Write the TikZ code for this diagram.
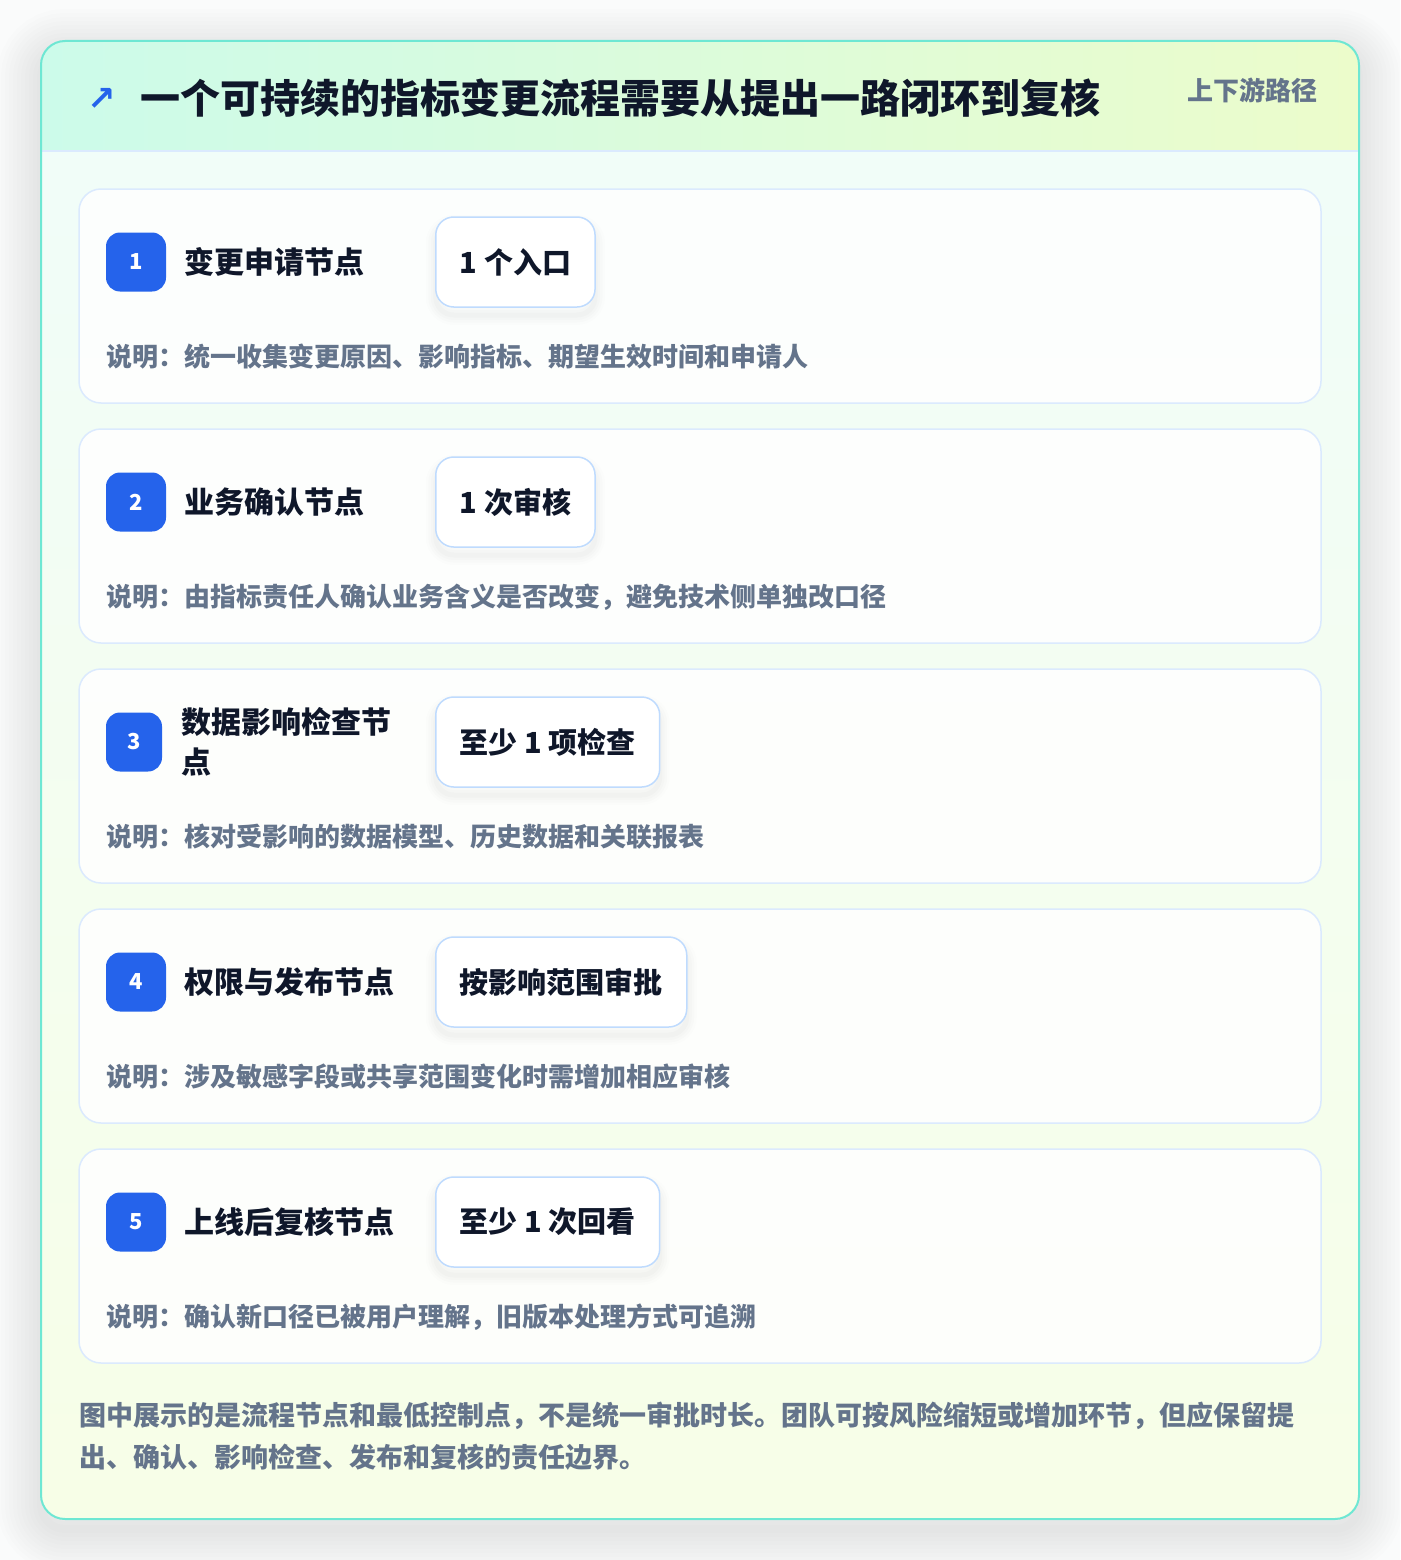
\documentclass[tikz,border=0pt]{standalone}
\usepackage{fontspec}
\setmainfont{Noto Sans CJK SC}
\newfontfamily\symfont{DejaVu Sans}
\definecolor{cardedge}{HTML}{6EE7D3}
\definecolor{hdrL}{HTML}{CCFBEA}
\definecolor{hdrR}{HTML}{ECFCCB}
\definecolor{bodyT}{HTML}{F0FDFA}
\definecolor{bodyB}{HTML}{F7FEE7}
\definecolor{cardline}{HTML}{DBEAFE}
\definecolor{pillline}{HTML}{BFDBFE}
\definecolor{badgeblue}{HTML}{2563EB}
\definecolor{ink}{HTML}{0F172A}
\definecolor{slate}{HTML}{64748B}
\definecolor{pagebg}{HTML}{FAFBFB}
\tikzset{
  softshadow/.style={
    preaction={draw=black, line width=20pt, opacity=0.008, transform canvas={yshift=-8pt}},
    preaction={draw=black, line width=15pt, opacity=0.01, transform canvas={yshift=-8pt}},
    preaction={draw=black, line width=10pt, opacity=0.012, transform canvas={yshift=-8pt}},
    preaction={draw=black, line width=5pt, opacity=0.015, transform canvas={yshift=-8pt}}},
  stepcard/.style={draw=cardline, line width=1.5pt, fill=white, fill opacity=0.85, rounded corners=22pt},
  badge/.style={fill=badgeblue, rounded corners=14pt, minimum height=59pt, inner sep=0pt,
    text=white, font=\bfseries\fontsize{22}{26}\selectfont},
  steptitle/.style={anchor=west, inner sep=0pt, text=ink, align=left,
    font=\bfseries\fontsize{30}{40}\selectfont},
  pill/.style={anchor=west, draw=pillline, line width=1.5pt, fill=white, rounded corners=18pt,
    minimum height=90pt, inner xsep=24pt, text=ink, softshadow,
    font=\bfseries\fontsize{29}{34}\selectfont},
  desc/.style={anchor=west, inner sep=0pt, text=slate, font=\bfseries\fontsize{26}{30}\selectfont},
}
\begin{document}
\begin{tikzpicture}[x=1pt,y=-1pt]
\useasboundingbox (0,0) rectangle (1400,1560);
\fill[pagebg] (0,0) rectangle (1400,1560);
% outer shadow
\foreach \w in {8,16,...,88}{
  \draw[black, line width=\w pt, opacity=0.006, rounded corners=24pt] (41,53) rectangle (1359,1529);
}
% outer card body
\shade[top color=bodyT, bottom color=bodyB, rounded corners=24pt] (41,41) rectangle (1359,1519);
\begin{scope}
  \clip[rounded corners=24pt] (41,41) rectangle (1359,1519);
  \shade[left color=hdrL, right color=hdrR] (41,41) rectangle (1359,151);
  \draw[cardline, line width=1.5pt] (41,151) -- (1359,151);
\end{scope}
\draw[cardedge, line width=2pt, rounded corners=24pt] (41,41) rectangle (1359,1519);
% header
\node[text=badgeblue, font=\symfont\bfseries\fontsize{34}{38}\selectfont, inner sep=0pt] (arrow) at (102,99) {↗};
\node[anchor=west, inner sep=0pt, text=ink, font=\bfseries\fontsize{40}{46}\selectfont] (title) at (140,98)
  {一个可持续的指标变更流程需要从提出一路闭环到复核};
\node[anchor=east, inner sep=0pt, text=slate, font=\bfseries\fontsize{26}{30}\selectfont] (tag) at (1318,90) {上下游路径};
% step cards
\foreach \i/\t/\p/\d/\bw/\tx in {
  1/{变更申请节点}/{1 个入口}/{说明：统一收集变更原因、影响指标、期望生效时间和申请人}/60/184,
  2/{业务确认节点}/{1 次审核}/{说明：由指标责任人确认业务含义是否改变，避免技术侧单独改口径}/60/184,
  3/{数据影响检查节\\点}/{至少 1 项检查}/{说明：核对受影响的数据模型、历史数据和关联报表}/56/181,
  4/{权限与发布节点}/{按影响范围审批}/{说明：涉及敏感字段或共享范围变化时需增加相应审核}/60/184,
  5/{上线后复核节点}/{至少 1 次回看}/{说明：确认新口径已被用户理解，旧版本处理方式可追溯}/60/184}{
  \pgfmathsetmacro{\top}{189+240*(\i-1)}
  \draw[stepcard] (79,\top) rectangle (1321,\top+214) node[pos=0.5, opacity=0, inner sep=0pt] (card\i) {};
  \node[badge, minimum width=\bw pt] (badge\i) at (106+\bw/2,\top+73) {\i};
  \node[steptitle] (title\i) at (\tx,\top+73) {\t};
  \node[pill] (pill\i) at (435,\top+73) {\p};
  \node[desc] (desc\i) at (106,\top+168) {\d};
}
% footer note
\node[anchor=west, inner sep=0pt, text=slate, align=left, font=\bfseries\fontsize{27}{42}\selectfont] (footer) at (79,1436)
  {图中展示的是流程节点和最低控制点，不是统一审批时长。团队可按风险缩短或增加环节，但应保留提\\出、确认、影响检查、发布和复核的责任边界。};
\end{tikzpicture}
\end{document}
